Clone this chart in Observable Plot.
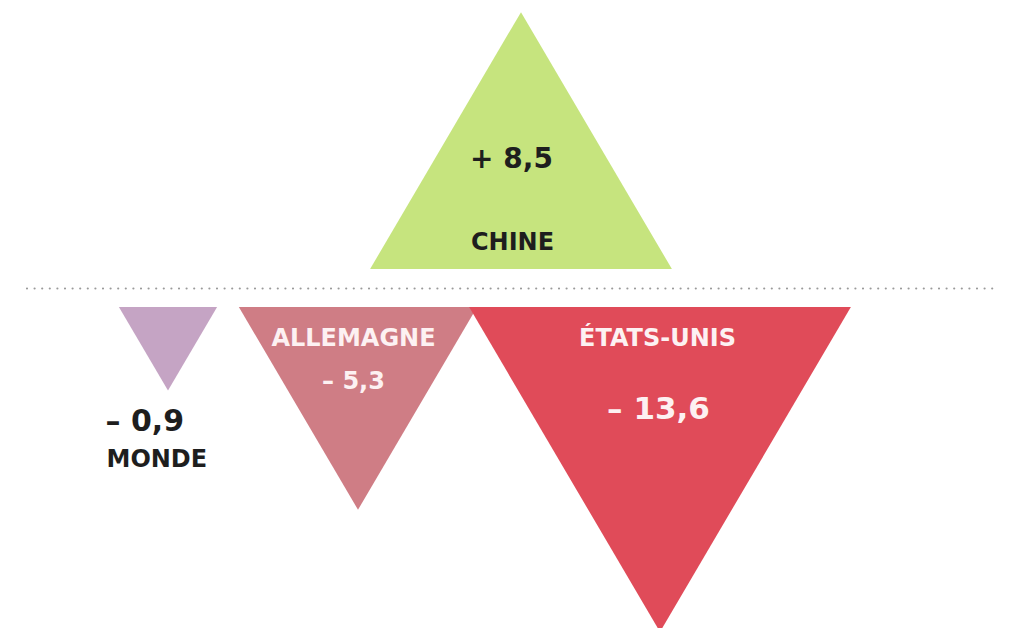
<!DOCTYPE html>
<html>
<head>
<meta charset="utf-8">
<script src="https://cdn.jsdelivr.net/npm/d3@7"></script>
<script src="https://cdn.jsdelivr.net/npm/@observablehq/plot@0.6"></script>
<style>
  html, body { margin: 0; padding: 0; background: #fff; }
  #chart svg { display: block; }
</style>
</head>
<body>
<div id="chart"></div>
<script>
// ---- Data ----
const pays = ["MONDE", "ALLEMAGNE", "ÉTATS-UNIS", "CHINE"];
const variation = [-0.9, -5.3, -13.6, 8.5];
const etiquettes = ["– 0,9", "– 5,3", "– 13,6", "+ 8,5"];
const couleurs = ["#c5a4c4", "#cf7d85", "#e04b59", "#c6e47e"];

// ---- Layout (chart units ≈ pixels; y measured from the dotted baseline) ----
const centre = {"MONDE": 168, "ALLEMAGNE": 358, "ÉTATS-UNIS": 660, "CHINE": 521};
const k = 88.1;          // height per sqrt(unit) -> area proportional to value
const ratio = 1.175;     // base width / height
const gap = 19;          // distance of triangle base from the baseline
const labelLayout = {
  "MONDE":      {nx: 106, ny: -171, vx: 105, vy: -133, anchor: "start",  color: "#1e1e1e", ns: 24, vs: 30},
  "ALLEMAGNE":  {nx: 353, ny: -50,  vx: 353, vy: -93,  anchor: "middle", color: "#fdf1f2", ns: 24, vs: 24},
  "ÉTATS-UNIS": {nx: 657, ny: -50,  vx: 658, vy: -121, anchor: "middle", color: "#fdf1f2", ns: 24, vs: 31},
  "CHINE":      {nx: 512, ny: 46,   vx: 511, vy: 129,  anchor: "middle", color: "#1e1e1e", ns: 24, vs: 28}
};

// ---- Build triangles from values ----
const tri = pays.flatMap((p, i) => {
  const v = variation[i];
  const s = Math.sign(v);
  const h = k * Math.sqrt(Math.abs(v));
  const w = ratio * h;
  const cx = centre[p];
  return [
    {p, x: cx - w / 2, y1: s * gap, y2: s * gap, c: couleurs[i]},
    {p, x: cx,         y1: s * gap, y2: s * (gap + h), c: couleurs[i]},
    {p, x: cx + w / 2, y1: s * gap, y2: s * gap, c: couleurs[i]}
  ];
});

const noms = pays.map(p => ({p, t: p, x: labelLayout[p].nx, y: labelLayout[p].ny, ...labelLayout[p]}));
const valeurs = pays.map((p, i) => ({p, t: etiquettes[i], x: labelLayout[p].vx, y: labelLayout[p].vy, ...labelLayout[p]}));

const font = "'DejaVu Sans', Verdana, sans-serif";

const marks = [
  Plot.ruleY([0], {stroke: "#9a9a9a", strokeWidth: 2.2, strokeDasharray: "0,7.6", strokeLinecap: "round", insetLeft: 27, insetRight: 20}),
  Plot.areaY(tri, {x: "x", y1: "y1", y2: "y2", z: "p", fill: "c", curve: "linear"})
];
for (const d of noms) {
  marks.push(Plot.text([d], {x: "x", y: "y", text: "t", fill: d.color, fontSize: d.ns, fontWeight: 700,
    textAnchor: d.anchor, fontFamily: font, style: "letter-spacing:1px"}));
}
for (const d of valeurs) {
  marks.push(Plot.text([d], {x: "x", y: "y", text: "t", fill: d.color, fontSize: d.vs, fontWeight: 700,
    textAnchor: d.anchor, fontFamily: font}));
}

const chart = Plot.plot({
  width: 1015,
  height: 628,
  margin: 0,
  x: {domain: [0, 1015], axis: null},
  y: {domain: [-340, 288], axis: null},
  color: {type: "identity"},
  style: {background: "#fff", fontFamily: font},
  marks
});
document.getElementById("chart").appendChild(chart);
</script>
</body>
</html>
